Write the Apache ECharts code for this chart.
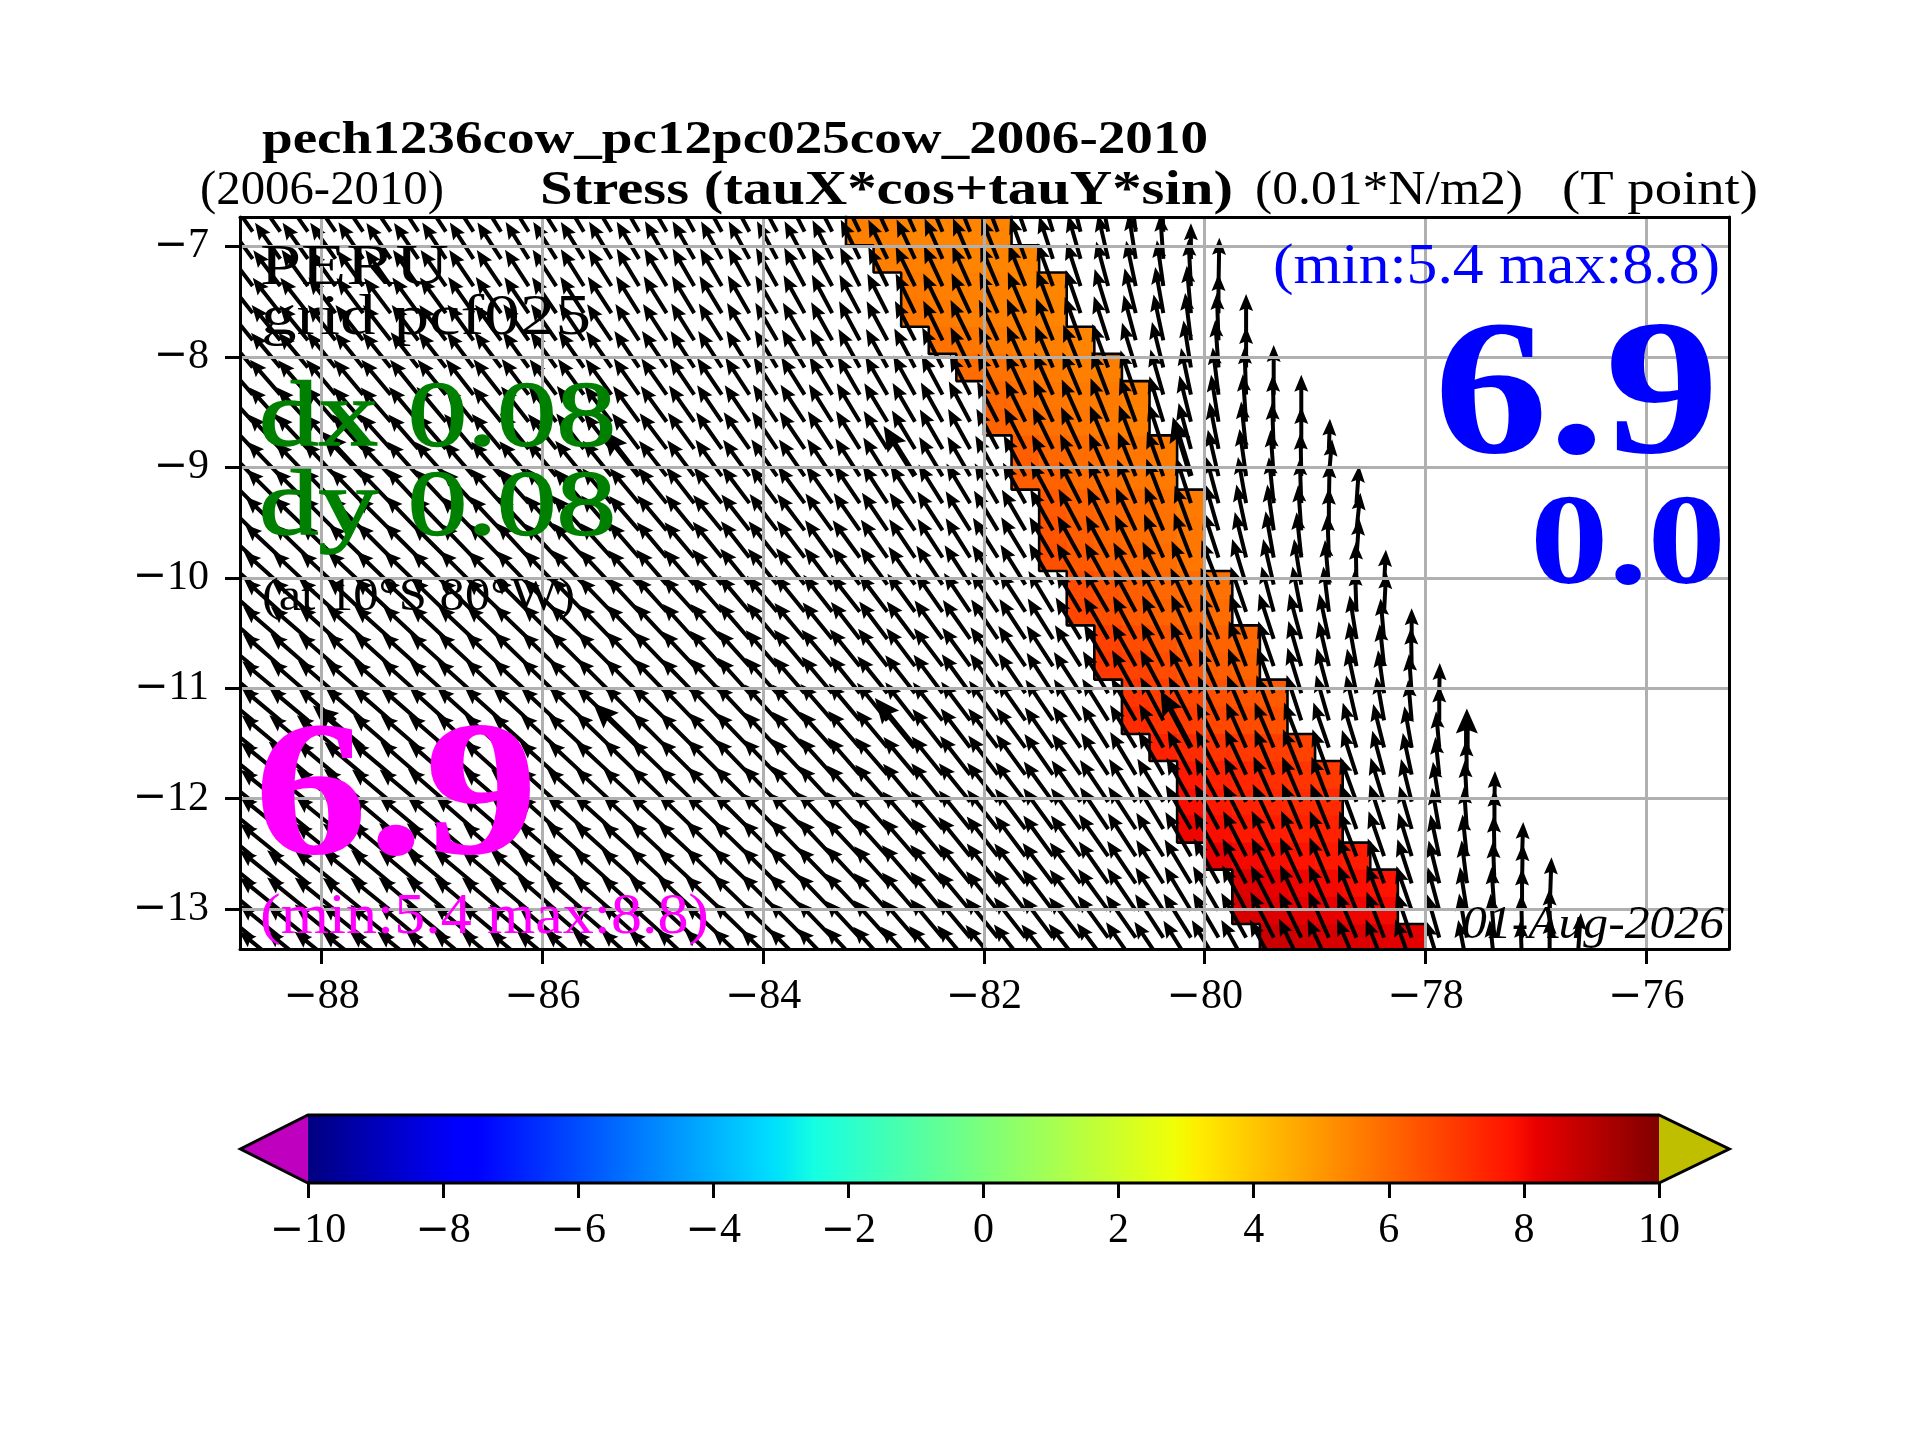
<!DOCTYPE html>
<html><head><meta charset="utf-8">
<script src="https://cdn.jsdelivr.net/npm/echarts@6/dist/echarts.min.js"></script>
<style>html,body{margin:0;padding:0;background:#fff}#c{width:1920px;height:1440px}</style>
</head><body><div id="c"></div>
<script>
// ---------- values ----------
const xTicks=[-88,-86,-84,-82,-80,-78,-76];
const yTicks=[-13,-12,-11,-10,-9,-8,-7];
const firstLon=-88.625, lonStep=0.25;
// arrow rows (latitude of each row of tails)
const rowLat=[-6.868,-7.114,-7.360,-7.605,-7.851,-8.097,-8.343,-8.588,-8.834,-9.080,-9.325,-9.571,-9.817,-10.062,-10.308,-10.554,-10.800,-11.045,-11.291,-11.537,-11.782,-12.028,-12.274,-12.520,-12.765,-13.011,-13.257,-13.502];
// arrow direction, degrees counter-clockwise from east
const arrowAngle=[
[125,125,125,124,124,124,123,123,123,122,122,122,121,121,120,120,119,119,118,118,117,117,116,115,114,113,112,111,109,107,104,101,97,92],
[126,125,125,125,124,124,124,123,123,123,122,122,122,121,121,120,120,119,119,118,118,117,116,116,115,114,113,112,110,108,106,103,99,94,90],
[127,127,126,126,126,125,125,125,124,124,123,123,122,122,121,121,120,120,119,119,118,118,117,116,116,115,114,113,112,110,108,105,102,98,93,89],
[128,128,128,127,127,127,126,126,125,125,124,124,123,123,122,122,121,121,120,120,119,118,118,117,116,116,115,114,113,111,109,107,104,100,95,90],
[129,129,129,128,128,128,127,127,126,126,125,125,124,124,123,123,122,122,121,120,120,119,118,118,117,116,116,115,114,112,110,108,105,102,97,92,90],
[130,130,130,129,129,129,128,128,127,127,126,126,125,125,124,124,123,123,122,121,121,120,119,119,118,117,116,115,114,113,112,110,107,104,99,94,90],
[131,131,131,130,130,130,129,129,128,128,127,127,126,126,125,125,124,124,123,122,122,121,120,120,119,118,117,116,115,114,113,111,109,106,102,97,92,90],
[132,132,132,131,131,131,130,130,129,129,128,128,127,127,126,126,125,124,124,123,123,122,121,121,120,119,118,117,116,115,114,112,110,107,104,99,94,91,90],
[133,133,133,132,132,132,131,131,130,130,129,129,128,128,127,127,126,125,125,124,124,123,122,122,121,120,119,118,117,116,115,113,111,108,105,101,96,92,90,88],
[134,134,134,133,133,133,132,132,131,131,130,130,129,129,128,128,127,126,126,125,125,124,123,122,122,121,120,119,118,117,116,114,112,110,107,103,98,94,91,85],
[135,135,135,134,134,134,133,133,133,132,132,131,131,130,130,129,128,128,127,126,126,125,124,123,123,122,121,120,119,118,117,115,113,111,108,105,100,96,92,89,86],
[136,136,136,135,135,135,134,134,134,133,133,132,132,131,131,130,129,129,128,127,127,126,125,124,124,123,122,121,120,119,118,116,115,113,110,106,102,98,94,90,84],
[137,137,136,136,136,135,135,135,134,134,133,133,132,132,131,130,130,129,128,128,127,126,126,125,124,123,122,122,121,120,119,118,116,114,111,108,104,100,96,92,86],
[138,138,137,137,137,136,136,136,135,135,134,134,133,133,132,131,131,130,129,129,128,127,127,126,125,124,123,123,122,120,120,119,118,116,114,111,107,103,99,95,91,87],
[139,138,138,138,137,137,137,136,136,136,135,135,134,134,133,132,132,131,130,130,129,128,128,127,126,125,124,124,123,121,121,120,118,117,115,112,109,105,101,97,92,87],
[139,139,139,138,138,138,137,137,137,136,136,135,135,134,134,133,132,132,131,130,130,129,128,127,127,126,125,124,123,122,121,120,118,116,114,112,110,108,105,102,99,95,90],
[140,139,139,139,138,138,138,138,137,137,136,136,135,135,134,134,133,132,132,131,130,130,129,128,127,127,126,125,124,123,122,120,119,117,115,113,111,109,106,103,100,96,91],
[140,140,139,139,139,139,138,138,138,137,137,136,136,135,135,134,134,133,132,132,131,130,129,129,128,127,126,125,124,123,123,121,119,118,116,114,112,110,107,105,102,98,94,89],
[140,140,140,139,139,139,139,138,138,138,137,137,136,136,135,135,134,134,133,132,132,131,130,129,128,128,127,126,125,124,123,122,120,118,117,115,113,111,108,106,103,100,95,90],
[141,140,140,140,140,139,139,139,138,138,138,137,137,136,136,135,135,134,134,133,132,132,131,130,129,128,127,127,126,125,124,122,121,119,118,116,114,113,111,109,107,104,100,95,90],
[141,141,140,140,140,140,139,139,139,138,138,138,137,137,136,136,135,135,134,134,133,132,131,131,130,129,128,127,126,125,125,123,121,120,118,117,115,113,112,110,108,105,102,96,91],
[141,141,141,140,140,140,140,139,139,139,139,138,138,137,137,136,136,135,135,134,133,133,132,131,130,129,129,128,127,126,125,124,122,121,119,118,116,114,113,111,110,107,104,99,93,89],
[141,141,141,141,140,140,140,140,139,139,139,138,138,138,137,137,136,136,135,134,134,133,132,131,131,130,129,128,127,126,126,124,123,121,120,118,117,115,113,112,110,108,106,100,94,90],
[141,141,141,141,141,140,140,140,140,139,139,139,138,138,138,137,137,136,136,135,134,133,133,132,131,130,129,128,127,126,126,125,123,122,120,119,117,116,114,113,111,109,107,102,96,91,88],
[141,141,141,141,141,140,140,140,140,140,139,139,139,138,138,137,137,136,136,135,135,134,133,132,131,130,129,128,128,127,127,125,124,122,121,119,118,116,115,113,112,110,108,104,97,92,89],
[141,141,141,141,141,141,140,140,140,140,140,139,139,139,138,138,137,137,136,135,135,134,133,132,131,130,130,129,128,127,127,126,124,123,121,120,118,117,115,114,112,111,109,105,99,94,90,88],
[141,141,141,141,141,141,140,140,140,140,140,139,139,139,138,138,137,137,136,136,135,134,133,132,131,130,130,129,128,127,128,126,125,123,122,120,119,117,116,114,113,111,109,106,100,95,91,90],
[141,141,141,141,141,141,141,140,140,140,140,140,139,139,138,138,137,137,136,136,135,134,133,132,132,131,130,129,128,128,128,127,125,124,122,121,119,118,116,115,113,112,110,107,101,96,92,90,86]
];
// arrow size in tenths of 0.01 N/m2 units (row by row, same layout as arrowAngle)
const arrowMag=[
[63,63,63,63,62,62,62,62,62,62,62,62,62,62,62,62,61,61,61,61,61,61,62,62,62,62,63,63,64,64,65,65,66,60],
[63,63,63,63,63,62,62,62,62,62,62,62,62,62,62,62,62,61,61,61,61,62,62,62,62,63,63,63,64,64,65,65,66,64,51],
[64,64,64,63,63,63,63,63,62,62,62,62,62,62,62,62,62,62,62,62,62,62,62,62,63,63,63,64,64,65,65,66,66,66,67,69],
[64,64,64,64,63,63,63,63,63,63,62,62,62,62,62,62,62,62,62,62,62,62,62,63,63,63,63,64,64,65,65,66,66,67,68,56],
[65,65,64,64,64,64,63,63,63,63,63,63,63,62,62,62,62,62,62,62,62,62,63,63,63,63,64,64,65,65,66,66,67,67,68,68,66],
[65,65,65,65,64,64,64,64,63,63,63,63,63,63,63,63,62,62,62,62,63,63,63,63,63,64,64,64,65,65,66,66,67,67,68,68,58],
[66,66,65,65,65,65,64,64,64,64,64,63,63,63,63,63,63,63,63,63,63,63,63,63,64,64,64,65,65,66,66,66,67,67,68,68,68,71],
[66,66,66,66,65,65,65,65,64,64,64,64,64,64,63,63,63,63,63,63,63,63,64,64,64,64,65,65,65,66,66,67,67,68,68,68,68,67,67],
[67,67,67,66,66,66,65,65,65,65,65,64,64,64,64,64,64,64,64,64,64,64,64,64,64,65,65,65,66,66,66,67,67,68,68,68,68,66,60,43],
[68,68,67,67,67,66,66,66,65,65,65,65,65,65,64,64,64,64,64,64,64,64,64,65,65,65,65,66,66,66,67,67,68,68,68,68,68,66,62,53],
[68,68,68,68,67,67,67,66,66,66,66,66,65,65,65,65,65,65,65,65,65,65,65,65,65,65,66,66,66,67,67,67,68,68,68,68,67,66,64,60,54],
[69,69,68,68,68,68,67,67,67,66,66,66,66,66,65,65,65,65,65,65,65,65,65,65,65,66,66,66,67,67,67,68,68,68,68,68,67,66,65,61,54],
[69,69,69,69,68,68,68,67,67,67,67,66,66,66,66,66,66,66,66,66,66,66,66,66,66,66,66,67,67,67,68,68,68,68,68,68,67,67,65,62,56],
[70,70,69,69,69,68,68,68,68,67,67,67,67,67,66,66,66,66,66,66,66,66,66,66,66,67,67,67,67,68,68,68,68,68,68,68,68,67,66,64,60,50],
[70,70,70,70,69,69,69,68,68,68,68,67,67,67,67,67,67,67,67,67,67,67,67,67,67,67,67,68,68,68,68,68,68,69,69,68,68,67,66,65,61,57],
[71,70,70,70,70,69,69,69,69,68,68,68,68,68,67,67,67,67,67,67,67,67,67,67,67,68,68,68,68,68,69,69,69,69,69,69,68,68,67,66,63,58,44],
[71,71,71,70,70,70,70,69,69,69,69,68,68,68,68,68,68,68,68,68,68,68,68,68,68,68,68,68,69,69,69,69,69,69,69,69,69,68,67,66,64,60,55],
[72,71,71,71,71,70,70,70,70,69,69,69,69,69,68,68,68,68,68,68,68,68,68,68,69,69,69,69,69,69,70,70,70,70,70,69,69,69,68,67,65,62,56,43],
[72,72,72,71,71,71,71,70,70,70,70,69,69,69,69,69,69,69,69,69,69,69,69,69,69,69,69,70,70,70,70,70,70,70,70,70,70,69,68,67,66,63,58,50],
[73,72,72,72,72,71,71,71,71,70,70,70,70,70,70,69,69,69,69,69,69,69,69,69,70,70,70,70,70,70,71,71,71,71,71,71,70,70,69,68,67,64,60,52,43],
[73,73,73,72,72,72,72,71,71,71,71,70,70,70,70,70,70,70,70,70,70,70,70,70,70,70,70,70,71,71,71,71,71,71,71,71,71,70,70,69,67,65,61,54,50],
[74,73,73,73,73,72,72,72,72,71,71,71,71,70,70,70,70,70,70,70,70,70,70,70,71,71,71,71,71,71,72,72,72,72,72,71,71,71,70,69,68,66,63,58,59,44],
[74,74,74,73,73,73,73,72,72,72,71,71,71,71,71,71,71,71,71,71,71,71,71,71,71,71,71,71,72,72,72,72,72,72,72,72,72,71,71,70,69,67,64,60,60,56],
[75,74,74,74,74,73,73,73,73,72,72,72,72,71,71,71,71,71,71,71,71,71,71,71,71,71,72,72,72,72,72,73,73,73,73,72,72,72,71,70,69,68,65,61,60,58,49],
[75,75,75,74,74,74,73,73,73,73,72,72,72,72,72,72,71,71,71,71,71,71,71,71,72,72,72,72,72,72,73,73,73,73,73,73,72,72,72,71,70,68,66,63,62,60,56],
[75,75,75,75,74,74,74,74,73,73,73,73,72,72,72,72,72,72,72,72,72,72,72,72,72,72,72,72,73,73,73,73,73,73,73,73,73,72,72,71,70,69,67,64,63,62,60,76],
[76,75,75,75,75,74,74,74,74,73,73,73,73,72,72,72,72,72,72,72,72,72,72,72,72,72,73,73,73,73,73,74,74,74,74,73,73,73,72,72,71,70,68,65,64,63,62,70],
[76,76,76,75,75,75,75,74,74,74,73,73,73,73,73,73,73,73,73,72,72,72,72,73,73,73,73,73,73,73,74,74,74,74,74,74,73,73,73,72,71,70,69,66,65,64,63,68,74]
];
// arrows drawn heavier in the picture
const heavyRowLat=[-9.080,-11.537];
const heavyLon=[-87.625,-85.125,-82.625,-80.125,-77.625];
// coloured band: edges of the cell rows, right edge of each, and six cell values per row
const bandEdge=[-6.50,-6.745,-6.991,-7.237,-7.482,-7.728,-7.974,-8.220,-8.465,-8.711,-8.957,-9.202,-9.448,-9.694,-9.939,-10.185,-10.431,-10.677,-10.922,-11.168,-11.414,-11.659,-11.905,-12.151,-12.397,-12.642,-12.888,-13.134,-13.379,-13.625];
const bandRight=[-81.75,-81.75,-81.5,-81.25,-81.25,-81,-80.75,-80.5,-80.5,-80.25,-80.25,-80,-80,-80,-79.75,-79.75,-79.5,-79.5,-79.25,-79.25,-79,-78.75,-78.75,-78.75,-78.5,-78.25,-78.25,-78,-77.75];
const bandValues=[
[5.5,5.5,5.4,5.4,5.4,5.4],[5.5,5.5,5.4,5.4,5.4,5.4],[5.5,5.5,5.5,5.4,5.4,5.4],[5.6,5.5,5.5,5.5,5.4,5.4],[5.7,5.6,5.5,5.5,5.5,5.4],
[5.8,5.7,5.6,5.5,5.5,5.4],[5.9,5.8,5.7,5.6,5.5,5.5],[6.0,5.8,5.7,5.6,5.6,5.5],[6.1,5.9,5.8,5.7,5.6,5.5],[6.2,6.0,5.9,5.8,5.7,5.6],
[6.2,6.1,5.9,5.8,5.7,5.6],[6.3,6.1,6.0,5.9,5.8,5.6],[6.4,6.2,6.0,5.9,5.8,5.7],[6.5,6.3,6.1,6.0,5.9,5.7],[6.6,6.4,6.2,6.0,5.9,5.8],
[6.7,6.5,6.3,6.1,6.0,5.9],[6.8,6.6,6.4,6.2,6.1,6.0],[7.0,6.8,6.6,6.4,6.2,6.1],[7.1,6.9,6.7,6.5,6.4,6.3],[7.3,7.1,6.9,6.7,6.6,6.5],
[7.5,7.3,7.1,7.0,6.9,6.8],[7.7,7.5,7.4,7.2,7.1,7.0],[7.9,7.7,7.5,7.4,7.3,7.3],[8.1,7.9,7.7,7.6,7.5,7.5],[8.2,8.0,7.9,7.8,7.7,7.6],
[8.4,8.2,8.1,8.0,7.9,7.8],[8.5,8.4,8.3,8.2,8.1,8.0],[8.7,8.6,8.5,8.4,8.3,8.3],[8.8,8.7,8.6,8.5,8.4,8.4]
];
// colour scale
const jetRed=[[0,0],[.35,0],[.66,1],[.89,1],[1,.5]];
const jetGreen=[[0,0],[.125,0],[.375,1],[.64,1],[.91,0],[1,0]];
const jetBlue=[[0,.5],[.11,1],[.34,1],[.65,0],[1,0]];
const cbarTicks=[-10,-8,-6,-4,-2,0,2,4,6,8,10];
const cbarUnder='#bf00bf', cbarOver='#bfbf00';

// ---------- helpers ----------
function seg(t,v){for(let i=1;i<t.length;i++){if(v<=t[i][0]){const a=t[i-1],b=t[i];return a[1]+(b[1]-a[1])*(v-a[0])/(b[0]-a[0]);}}return t[t.length-1][1];}
function jetAt(n){return 'rgb('+[jetRed,jetGreen,jetBlue].map(t=>Math.round(255*seg(t,n))).join(',')+')';}
function valueColor(v){return jetAt((v+10)/20);}
const SERIF='"Liberation Serif"';
const mctx=document.createElement('canvas').getContext('2d');
function txt(text,left,right,base,size,fill,weight,style){
  const font=(style||'normal')+' '+(weight||'normal')+' '+size+'px '+SERIF;
  mctx.font=font;const w=mctx.measureText(text).width;
  const col=fill||'#000';
  const st={text:text,x:0,y:0,fill:col,font:font,textAlign:'left',textVerticalAlign:'middle'};
  if(weight!=='bold'&&size>=80){st.stroke=col;st.lineWidth=1.5;}
  return {type:'text',z:100,silent:true,x:left,y:base-0.26*size,scaleX:(right-left)/w,scaleY:1,style:st};
}
const richFmt=v=>{const s=String(v);return s[0]==='-'?'{m|\u2212}{d|'+s.slice(1)+'}':'{d|'+s+'}';};

// ---------- marks data ----------
const arrowData=[];
arrowAngle.forEach((row,r)=>row.forEach((a,i)=>{
  const lon=firstLon+i*lonStep;
  const heavy=heavyRowLat.includes(rowLat[r])&&heavyLon.includes(lon)?1:0;
  arrowData.push([lon,rowLat[r],a,arrowMag[r][i],heavy]);
}));
const bandData=[];
bandRight.forEach((R,r)=>bandValues[r].forEach((v,j)=>{
  const lonL=R-1.5+j*lonStep;
  bandData.push([lonL,bandEdge[r],lonL+lonStep,bandEdge[r+1],v]);
}));
const outline=[];
bandRight.forEach((R,r)=>{outline.push([R,bandEdge[r]],[R,bandEdge[r+1]]);});
for(let r=bandRight.length-1;r>=0;r--){outline.push([bandRight[r]-1.5,bandEdge[r+1]],[bandRight[r]-1.5,bandEdge[r]]);}

function renderArrow(p,api){
  const t=api.coord([api.value(0),api.value(1)]);
  const a=api.value(2)*Math.PI/180, heavy=api.value(4);
  const L=api.value(3)*0.7*(heavy?1.3:1);
  const sw=heavy?2.8:2.0, hw=heavy?11:7, hl=heavy?25:17, ax=heavy?22:15;
  const ux=Math.cos(a),uy=-Math.sin(a),nx=-uy,ny=ux;
  const P=(s,n)=>[t[0]+ux*s+nx*n,t[1]+uy*s+ny*n];
  return {type:'polygon',silent:true,shape:{points:[P(0,sw),P(L-ax,sw),P(L-hl,hw),P(L,0),P(L-hl,-hw),P(L-ax,-sw),P(0,-sw)]},style:{fill:'#000'}};
}
function renderCell(p,api){
  const a=api.coord([api.value(0),api.value(1)]),b=api.coord([api.value(2),api.value(3)]);
  return {type:'rect',silent:true,shape:{x:a[0],y:a[1],width:b[0]-a[0]+0.6,height:b[1]-a[1]+0.6},style:{fill:valueColor(api.value(4))}};
}
function renderCbar(p,api){
  const c=(x,y)=>api.coord([x,y]);
  const tl=c(-10,1),br=c(10,0);
  const stops=[0,.11,.125,.34,.35,.375,.64,.65,.66,.89,.91,1].map(o=>({offset:o,color:jetAt(o)}));
  const under=[c(-10,1),c(-11,.5),c(-10,0)], over=[c(10,1),c(11.04,.5),c(10,0)];
  return {type:'group',silent:true,children:[
    {type:'rect',shape:{x:tl[0],y:tl[1],width:br[0]-tl[0],height:br[1]-tl[1]},style:{fill:new echarts.graphic.LinearGradient(0,0,1,0,stops)}},
    {type:'polygon',shape:{points:under},style:{fill:cbarUnder}},
    {type:'polygon',shape:{points:over},style:{fill:cbarOver}},
    {type:'polygon',shape:{points:[c(-10,1),c(10,1),c(11.04,.5),c(10,0),c(-10,0),c(-11,.5)]},style:{fill:'none',stroke:'#000',lineWidth:3,lineJoin:'miter'}}
  ]};
}
const lineBlack={show:true,onZero:false,lineStyle:{color:'#000',width:3}};
const tickStyle={show:true,length:15,lineStyle:{color:'#000',width:3}};
const labelFont={formatter:richFmt,rich:{
  m:{fontFamily:'DejaVu Sans',fontSize:41,color:'#000'},
  d:{fontFamily:SERIF,fontSize:42,color:'#000'}}};
const chart=echarts.init(document.getElementById('c'),null,{renderer:'canvas',width:1920,height:1440});
chart.setOption({
  animation:false,backgroundColor:'#fff',tooltip:{show:false},
  grid:[{left:240,top:217,width:1489,height:732,containLabel:false},{left:308,top:1115,width:1351,height:68}],
  xAxis:[
   {type:'value',gridIndex:0,min:-88.74,max:-75.25,z:5,position:'bottom',axisLine:lineBlack,
    axisTick:Object.assign({customValues:xTicks},tickStyle),
    axisLabel:Object.assign({customValues:xTicks,margin:27},labelFont),
    splitLine:{show:true,lineStyle:{color:'#b0b0b0',width:3}}},
   {type:'value',gridIndex:0,min:-88.74,max:-75.25,z:5,position:'top',axisLine:lineBlack,axisTick:{show:false},axisLabel:{show:false},splitLine:{show:false}},
   {type:'value',gridIndex:1,min:-10,max:10,interval:2,position:'bottom',axisLine:{show:false},z:5,
    axisTick:tickStyle,axisLabel:Object.assign({margin:27},labelFont),splitLine:{show:false}}
  ],
  yAxis:[
   {type:'value',gridIndex:0,min:-13.36,max:-6.735,z:5,position:'left',axisLine:lineBlack,
    axisTick:Object.assign({customValues:yTicks},tickStyle),
    axisLabel:Object.assign({customValues:yTicks,margin:31},labelFont),
    splitLine:{show:true,lineStyle:{color:'#b0b0b0',width:3}}},
   {type:'value',gridIndex:0,min:-13.36,max:-6.735,z:5,position:'right',axisLine:lineBlack,axisTick:{show:false},axisLabel:{show:false},splitLine:{show:false}},
   {type:'value',gridIndex:1,min:0,max:1,show:false}
  ],
  series:[
   {type:'custom',name:'band',xAxisIndex:0,yAxisIndex:0,z:2,clip:true,renderItem:renderCell,data:bandData,silent:true},
   {type:'line',name:'coast',xAxisIndex:0,yAxisIndex:0,z:3,clip:true,symbol:'none',data:outline,silent:true,lineStyle:{color:'#000',width:2.6}},
   {type:'custom',name:'stress',xAxisIndex:0,yAxisIndex:0,z:4,clip:true,renderItem:renderArrow,data:arrowData,silent:true},
   {type:'custom',name:'colorbar',xAxisIndex:2,yAxisIndex:2,z:2,renderItem:renderCbar,data:[[0,0]],silent:true}
  ],
  graphic:{elements:[
   txt('pech1236cow_pc12pc025cow_2006-2010',262,1208,153,46,'#000','bold'),
   txt('(2006-2010)',200,444,204,48),
   txt('Stress (tauX*cos+tauY*sin)',540,1233,204,48,'#000','bold'),
   txt('(0.01*N/m2)',1255,1523,204,48),
   txt('(T point)',1562,1758,204,48),
   txt('PERU',260,449,284,57),
   txt('grid pcf025',261,591,334,57),
   txt('dx 0.08',259,616,445,93,'#008000'),
   txt('dy 0.08',259,616,534,93,'#008000'),
   txt('(at 10\u00b0S 80\u00b0W)',262,575,610,46),
   txt('6.9',254,538,853,192,'#ff00ff','bold'),
   txt('(min:5.4 max:8.8)',260,709,933,56,'#ff00ff'),
   txt('01-Aug-2026',1462,1724,938,47,'#000','normal','italic'),
   txt('(min:5.4 max:8.8)',1273,1720,283,56,'#0000ff'),
   txt('6.9',1434,1719,452,192,'#0000ff','bold'),
   txt('0.0',1530,1726,583,129,'#0000ff','bold')
  ]}
});
</script></body></html>
